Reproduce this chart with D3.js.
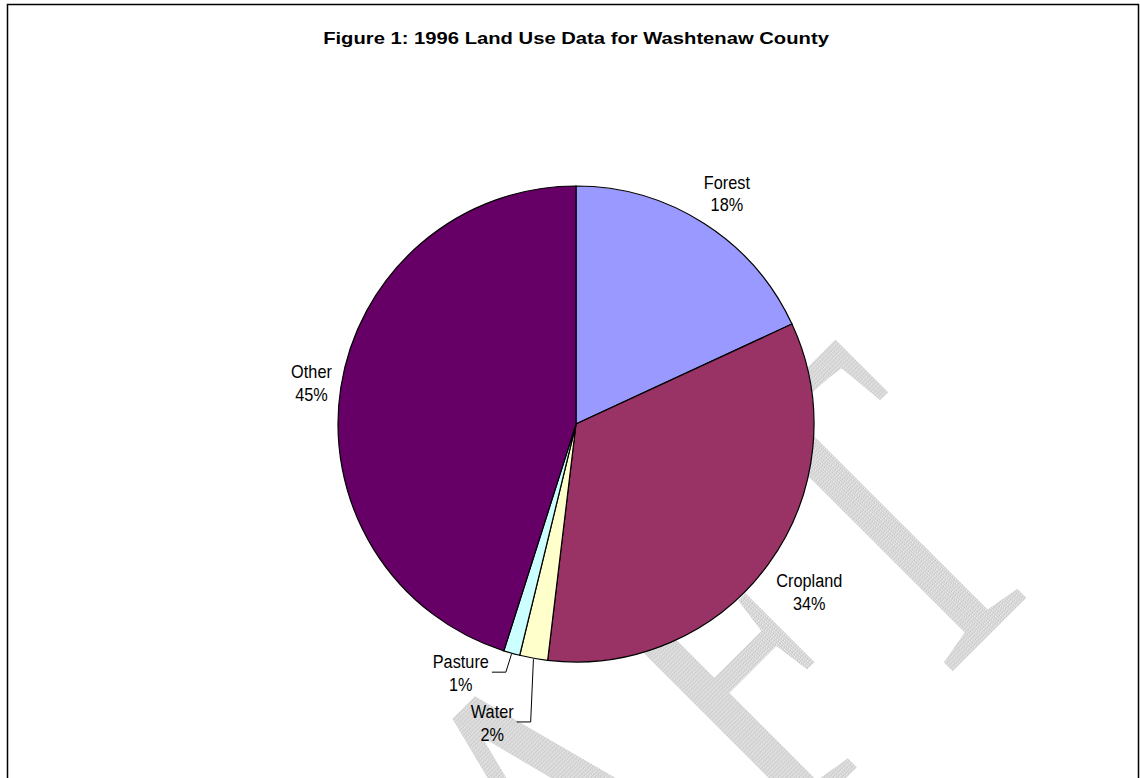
<!DOCTYPE html>
<html>
<head>
<meta charset="utf-8">
<script src="https://cdnjs.cloudflare.com/ajax/libs/d3/7.8.5/d3.min.js"></script>
<style>
  body { margin: 0; background: #fff; }
  text { font-family: "Liberation Sans", Arial, sans-serif; fill: #000; }
  text.watermark { font-family: "Liberation Serif", "Times New Roman", serif; fill: url(#speckle); }
</style>
</head>
<body>
<script>
// land use shares (clockwise from 12 o'clock)
var categories = ["Forest", "Cropland", "Water", "Pasture", "Other"];
var shares = [18.1, 33.8, 1.9, 1.1, 45.1];
var shareLabels = ["18%", "34%", "2%", "1%", "45%"];
var colours = ["#9999FF", "#993366", "#FFFFCC", "#CCFFFF", "#660066"];

var title = "Figure 1: 1996 Land Use Data for Washtenaw County";

var width = 1140,
    height = 778;
var cx = 576, cy = 424, radius = 238;

// labels that were dragged away from the pie: [angle in degrees, distance]
var movedLabels = {Pasture: [204.9, 273.6], Water: [195.7, 309.5]};

var svg = d3.select("body")
    .append("svg")
    .attr("width", width)
    .attr("height", height);

// dotted grey texture for the watermark
var pat = svg.append("defs").append("pattern")
    .attr("id", "speckle")
    .attr("width", 3)
    .attr("height", 3)
    .attr("patternUnits", "userSpaceOnUse");
pat.append("rect").attr("width", 3).attr("height", 3).attr("fill", "#d8d8d8");
pat.append("rect").attr("x", 1).attr("y", 0).attr("width", 1).attr("height", 1).attr("fill", "#f2f2f2");
pat.append("rect").attr("x", 0).attr("y", 2).attr("width", 1).attr("height", 1).attr("fill", "#c0c0c0");

// DRAFT watermark sits behind everything
svg.append("text")
    .attr("class", "watermark")
    .attr("text-anchor", "end")
    .attr("font-size", 485)
    .attr("transform", "translate(1064,560) rotate(-45) scale(0.71,1)")
    .text("DRAFT");

// frame
svg.append("rect")
    .attr("x", 7.5)
    .attr("y", 4.5)
    .attr("width", 1131)
    .attr("height", 820)
    .attr("fill", "none")
    .attr("stroke", "#000")
    .attr("stroke-width", 1.5);

svg.append("text")
    .attr("text-anchor", "middle")
    .attr("font-weight", "bold")
    .attr("font-size", 16.3)
    .attr("transform", "translate(" + cx + ",44) scale(1.24,1)")
    .text(title);

var data = categories.map(function(c, i) {
    return {name: c, value: shares[i], label: shareLabels[i], colour: colours[i]};
});

var pie = d3.pie()
    .sort(null)
    .value(function(d) { return d.value; });

var arc = d3.arc()
    .innerRadius(0)
    .outerRadius(radius);

var g = svg.append("g")
    .attr("transform", "translate(" + cx + "," + cy + ")");

var slices = pie(data);

g.selectAll(".slice")
    .data(slices)
    .enter()
    .append("path")
    .attr("class", "slice")
    .attr("d", arc)
    .attr("fill", function(d) { return d.data.colour; })
    .attr("stroke", "#000")
    .attr("stroke-width", 1.2);

// labels: two lines, name then percentage
var lineGap = 20.5, capH = 13.2, boxH = capH + lineGap;

var labels = g.selectAll(".label")
    .data(slices)
    .enter()
    .append("text")
    .attr("class", "label")
    .attr("text-anchor", "middle")
    .attr("font-size", 16.3);

labels.append("tspan")
    .attr("x", 0)
    .attr("y", capH - boxH / 2)
    .text(function(d) { return d.data.name; });
labels.append("tspan")
    .attr("x", 0)
    .attr("y", capH - boxH / 2 + lineGap)
    .text(function(d) { return d.data.label; });

labels.each(function(d) {
    var el = d3.select(this);
    var w = d3.max(el.selectAll("tspan").nodes(), function(n) { return n.getComputedTextLength(); });
    var mid = (d.startAngle + d.endAngle) / 2;
    var lx, ly, dist;
    if (movedLabels[d.data.name]) {
        var ang = movedLabels[d.data.name][0] * Math.PI / 180;
        dist = movedLabels[d.data.name][1];
        lx = Math.sin(ang) * dist;
        ly = -Math.cos(ang) * dist;
    } else {
        dist = radius + 10 + Math.abs(Math.sin(mid)) * w / 2 + Math.abs(Math.cos(mid)) * boxH / 2;
        lx = Math.sin(mid) * dist + 3;
        ly = -Math.cos(mid) * dist;
    }
    d.lx = lx; d.ly = ly; d.w = el.select("tspan").node().getComputedTextLength();
    el.attr("transform", "translate(" + lx + "," + ly + ") scale(1,1.12)");
});

// leader lines for the moved labels
g.selectAll(".leader")
    .data(slices.filter(function(d) { return movedLabels[d.data.name]; }))
    .enter()
    .append("polyline")
    .attr("class", "leader")
    .attr("fill", "none")
    .attr("stroke", "#000")
    .attr("stroke-width", 1)
    .attr("points", function(d) {
        var mid = (d.startAngle + d.endAngle) / 2;
        var x0 = d.lx + d.w / 2 + 3, y0 = d.ly;
        var ex = Math.sin(mid) * (radius + 1), ey = -Math.cos(mid) * (radius + 1);
        return [[x0, y0], [x0 + 14, y0], [ex, ey]].join(" ");
    });
</script>
</body>
</html>
